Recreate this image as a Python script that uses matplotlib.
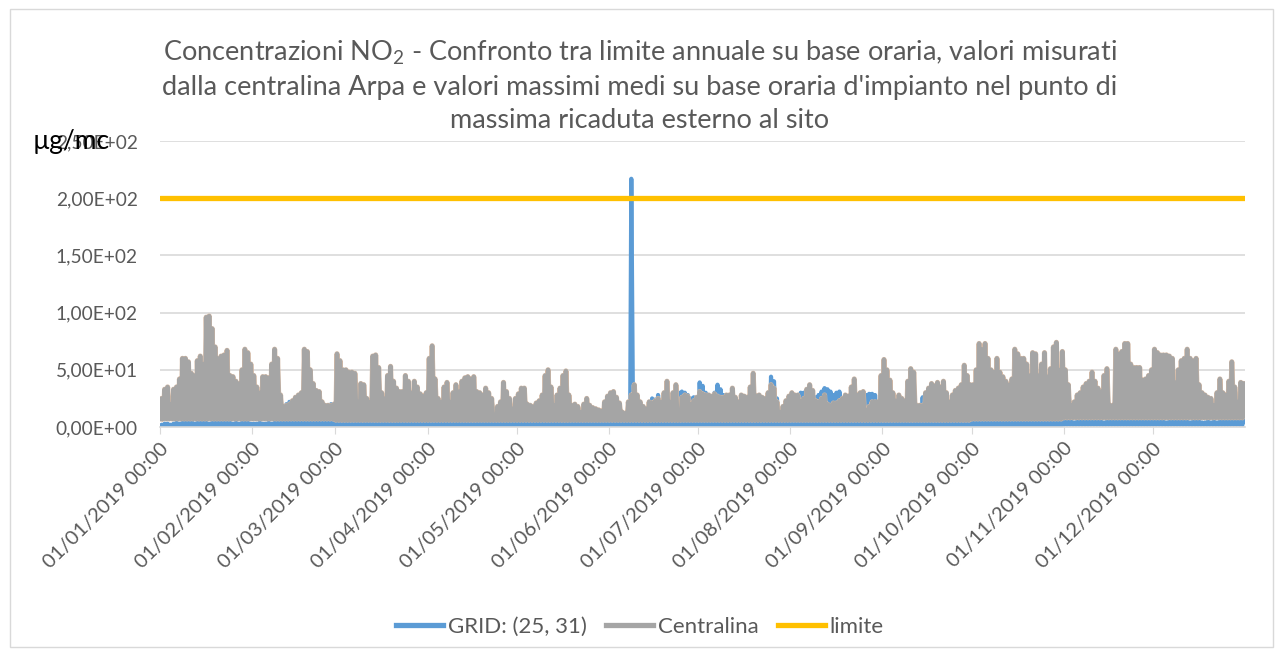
import numpy as np
import matplotlib.pyplot as plt
from matplotlib.patches import Rectangle
from matplotlib.lines import Line2D
import matplotlib.patheffects as pe

plt.rcParams['font.family'] = ['Lato', 'DejaVu Sans']
plt.rcParams['mathtext.fontset'] = 'custom'
plt.rcParams['mathtext.rm'] = 'Lato'
plt.rcParams['mathtext.it'] = 'Lato:italic'

# --- data (2019, daily peaks) ---
month_days = [31, 28, 31, 30, 31, 30, 31, 31, 30, 31, 30, 31]
month_labels = ["01/%02d/2019 00:00" % m for m in range(1, 13)]

# Centralina Arpa, daily max (ug/mc)
cent_max = [
    25, 33, 35, 20, 33, 35, 42, 60, 60, 57, 47, 45, 58, 62, 55, 96, 97, 86, 70, 60, 62, 63, 67, 45, 44, 40, 38, 50, 68, 65, 55,
    45, 35, 30, 44, 44, 43, 55, 68, 60, 28, 18, 19, 20, 23, 26, 28, 30, 68, 66, 50, 38, 32, 31, 22, 19, 19, 19, 20,
    64, 58, 50, 50, 48, 48, 47, 22, 38, 37, 25, 22, 62, 63, 52, 30, 25, 45, 53, 40, 34, 31, 31, 45, 40, 30, 40, 35, 29, 27, 30,
    60, 71, 42, 25, 22, 35, 39, 22, 30, 37, 31, 40, 43, 44, 42, 44, 31, 30, 28, 34, 30, 25, 9, 18, 22, 39, 31, 25, 16, 25,
    29, 34, 34, 20, 19, 18, 21, 23, 28, 45, 50, 35, 19, 28, 34, 45, 49, 28, 19, 20, 18, 13, 20, 25, 19, 17, 16, 15, 14, 22, 27,
    30, 31, 26, 21, 13, 12, 22, 28, 37, 28, 22, 18, 16, 22, 21, 23, 25, 22, 30, 40, 22, 30, 37, 10, 26, 28, 27, 20, 23, 26,
    31, 29, 28, 28, 27, 29, 27, 26, 26, 28, 28, 34, 26, 22, 28, 27, 26, 35, 47, 27, 28, 26, 25, 30, 37, 34, 22, 13, 18, 23, 27,
    30, 28, 28, 23, 25, 33, 37, 32, 23, 22, 25, 28, 20, 19, 21, 21, 23, 25, 28, 27, 35, 42, 28, 30, 31, 15, 18, 22, 22, 22, 45,
    59, 50, 41, 30, 23, 28, 25, 23, 40, 51, 48, 19, 19, 19, 30, 34, 38, 36, 39, 35, 40, 30, 22, 28, 32, 34, 37, 54, 45, 37,
    37, 50, 73, 68, 73, 60, 50, 48, 60, 48, 44, 40, 37, 42, 68, 64, 60, 60, 55, 45, 65, 64, 45, 55, 65, 44, 51, 70, 74, 50, 66,
    50, 37, 19, 22, 28, 30, 35, 38, 40, 48, 40, 34, 31, 45, 51, 19, 19, 68, 64, 66, 73, 73, 55, 52, 52, 52, 41, 42, 45, 50,
    68, 65, 63, 63, 63, 62, 60, 39, 50, 58, 60, 68, 60, 58, 60, 37, 30, 28, 26, 25, 19, 30, 42, 30, 28, 40, 57, 35, 22, 39, 38,
]
# Centralina, typical daily minimum per month
cent_min = [7, 7, 6, 6, 6, 6, 6, 6, 6, 7, 8, 8]

# GRID: (25, 31), daily max (ug/mc)
grid_max = [
    2, 3, 3, 2, 3, 4, 3, 4, 5, 6, 6, 3, 4, 5, 5, 4, 3, 4, 5, 5, 4, 4, 5, 4, 3, 4, 3, 4, 5, 4, 3,
    3, 3, 4, 3, 3, 4, 3, 4, 5, 7, 8, 20, 22, 22, 21, 12, 10, 10, 11, 12, 8, 6, 5, 4, 5, 6, 20, 20,
    4, 3, 3, 4, 3, 4, 3, 3, 4, 5, 4, 3, 4, 3, 3, 4, 4, 3, 3, 4, 5, 4, 3, 3, 4, 3, 4, 3, 3, 4, 3,
    3, 4, 3, 3, 4, 3, 4, 5, 4, 3, 3, 4, 3, 3, 4, 5, 4, 3, 16, 4, 3, 4, 5, 3, 3, 4, 3, 3, 4, 4,
    3, 4, 3, 3, 4, 3, 4, 5, 6, 20, 22, 21, 4, 3, 3, 4, 3, 4, 3, 3, 4, 5, 4, 3, 3, 4, 5, 4, 3, 4, 5,
    4, 3, 4, 5, 4, 3, 4, 217, 5, 4, 6, 8, 10, 22, 25, 24, 28, 20, 15, 12, 10, 9, 12, 30, 31, 30, 28, 25, 26, 25,
    39, 36, 30, 28, 27, 30, 37, 33, 28, 26, 25, 24, 22, 20, 18, 22, 26, 27, 28, 28, 28, 26, 25, 30, 44, 40, 25, 15, 12, 14, 16,
    18, 20, 24, 30, 30, 28, 22, 23, 26, 28, 31, 34, 33, 31, 28, 30, 31, 25, 20, 22, 24, 26, 25, 29, 29, 28, 29, 29, 28, 20, 10,
    8, 6, 5, 25, 25, 18, 10, 6, 5, 4, 4, 5, 6, 26, 20, 8, 5, 4, 3, 4, 5, 4, 3, 4, 5, 4, 3, 4, 5, 4,
    4, 5, 4, 5, 6, 5, 4, 5, 6, 5, 4, 5, 5, 6, 5, 6, 7, 6, 5, 6, 5, 4, 5, 6, 5, 6, 5, 4, 5, 6, 5,
    5, 6, 5, 4, 5, 6, 5, 6, 7, 6, 5, 6, 5, 4, 5, 6, 7, 9, 8, 6, 5, 6, 5, 7, 6, 5, 6, 5, 6, 7,
    6, 5, 6, 5, 4, 5, 6, 7, 6, 5, 6, 5, 4, 5, 6, 5, 4, 4, 5, 4, 5, 4, 5, 6, 5, 6, 5, 6, 5, 6, 7,
]
grid_min = [1, 1, 1, 1, 1, 1, 1, 1, 1, 1, 2, 2]

limite = 200

# --- build day-by-day zigzag (low, high) so the dense hourly look is kept ---
days = np.arange(sum(month_days))
month_start = np.concatenate([[0], np.cumsum(month_days)[:-1]])


def zigzag(hi, lo_month):
    lo = np.repeat(lo_month, month_days)
    x = np.column_stack([days + 0.15, days + 0.55]).ravel()
    y = np.column_stack([lo, np.asarray(hi)]).ravel()
    return x, y


W, H = 1284, 657
fig = plt.figure(figsize=(W / 100, H / 100), dpi=100)
fig.patches.append(Rectangle((10 / W, 1 - 647 / H), 1263 / W, 638 / H,
                             transform=fig.transFigure, fill=False,
                             edgecolor='#D9D9D9', linewidth=1))

ax = fig.add_axes([160 / W, 1 - 427 / H, 1085 / W, 286 / H])

c_blue, c_grey, c_yel = '#5B9BD5', '#A5A5A5', '#FFC000'

gx, gy = zigzag(grid_max, grid_min)
ax.plot(gx, gy, color=c_blue, lw=3.0, solid_joinstyle='round', zorder=2)
cx, cy = zigzag(cent_max, cent_min)
ax.plot(cx, cy, color=c_grey, lw=3.0, solid_joinstyle='round', zorder=3,
        path_effects=[pe.Stroke(linewidth=3.7, foreground='#D2B8A4'), pe.Normal()])
ax.plot([days[0], days[-1] + 1], [limite, limite], color=c_yel, lw=3.8,
        solid_capstyle='round', zorder=4)

ax.set_xlim(0, 365)
ax.set_ylim(0, 250)
ax.set_yticks([0, 50, 100, 150, 200, 250])
ax.set_yticklabels(["0,00E+00", "5,00E+01", "1,00E+02", "1,50E+02", "2,00E+02", "2,50E+02"])
ax.set_xticks(month_start)
ax.set_xticklabels(month_labels, rotation=45, ha='right', va='top', rotation_mode='anchor')
ax.tick_params(axis='y', length=0, pad=16, labelsize=13.8, labelcolor='#595959')
ax.tick_params(axis='x', length=5, color='#D9D9D9', pad=4, labelsize=14.5, labelcolor='#595959')
ax.grid(axis='y', color='#D9D9D9', lw=1.2)
ax.set_axisbelow(True)
for s in ['left', 'right', 'top']:
    ax.spines[s].set_visible(False)
ax.spines['bottom'].set_color('#D9D9D9')
ax.spines['bottom'].set_linewidth(1.2)

fig.text(640 / W, 1 - 86 / H,
         "Concentrazioni NO$_2$ - Confronto tra limite annuale su base oraria, valori misurati\n"
         "dalla centralina Arpa e valori massimi medi su base oraria d'impianto nel punto di\n"
         "massima ricaduta esterno al sito",
         ha='center', va='center', fontsize=19.5, color='#595959', linespacing=1.4)
fig.text(33 / W, 1 - 141 / H, "µg/mc", ha='left', va='center', fontsize=19, color='black')

handles = [Line2D([], [], color=c_blue, lw=3.8),
           Line2D([], [], color=c_grey, lw=3.8),
           Line2D([], [], color=c_yel, lw=3.8)]
fig.legend(handles, ["GRID: (25, 31)", "Centralina", "limite"], loc='center',
           bbox_to_anchor=(640 / W, 1 - 627 / H), ncol=3, frameon=False,
           fontsize=16, labelcolor='#595959', handlelength=2.1, handletextpad=0.2,
           columnspacing=0.9)

fig.savefig("out.png", dpi=100)
